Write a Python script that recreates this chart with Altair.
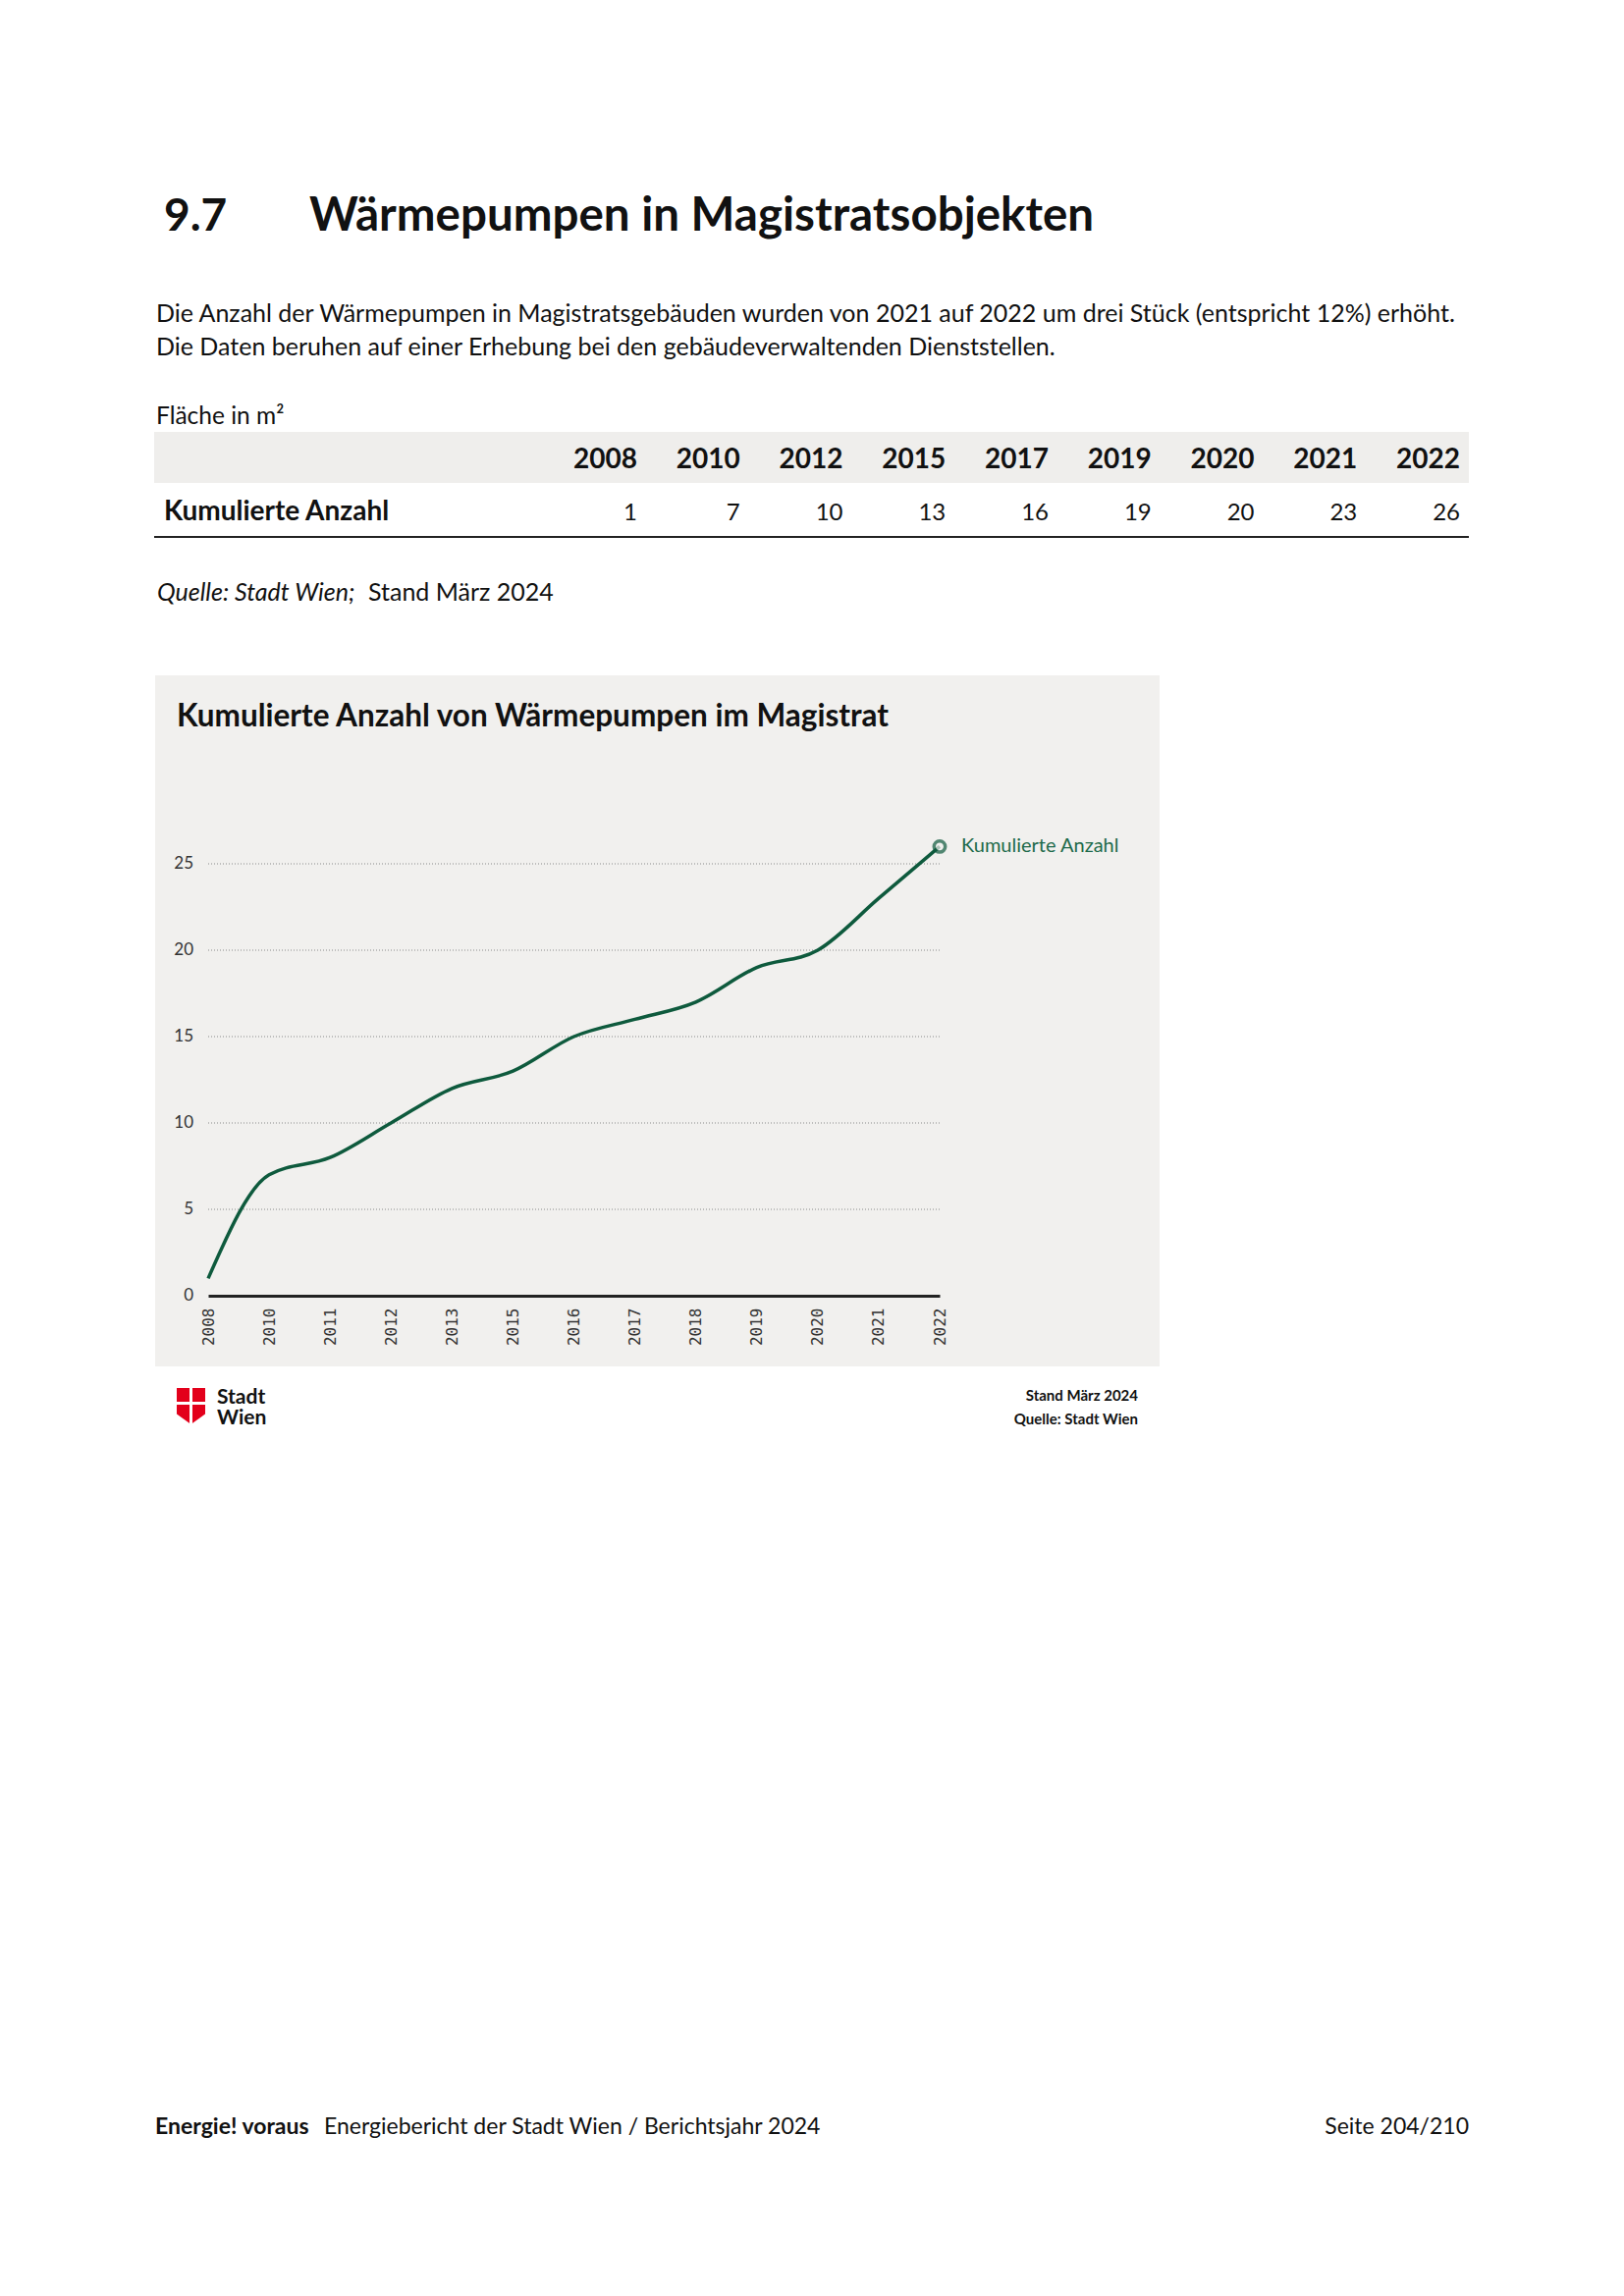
import altair as alt
import pandas as pd

# ---------------- data ----------------
chart_years = ["2008", "2010", "2011", "2012", "2013", "2015", "2016",
               "2017", "2018", "2019", "2020", "2021", "2022"]
chart_values = [1, 7, 8, 10, 12, 13, 15, 16, 17, 19, 20, 23, 26]
series_name = "Kumulierte Anzahl"

table_years = ["2008", "2010", "2012", "2015", "2017", "2019", "2020", "2021", "2022"]
table_values = [1, 7, 10, 13, 16, 19, 20, 23, 26]
table_row_label = "Kumulierte Anzahl"

y_ticks = [0, 5, 10, 15, 20, 25]

section_no = "9.7"
section_title = "Wärmepumpen in Magistratsobjekten"
para_lines = [
    "Die Anzahl der Wärmepumpen in Magistratsgebäuden wurden von 2021 auf 2022 um drei Stück (entspricht 12%) erhöht.",
    "Die Daten beruhen auf einer Erhebung bei den gebäudeverwaltenden Dienststellen.",
]
unit_label = "Fläche in m²"
source_italic = "Quelle: Stadt Wien;"
source_regular = "Stand März 2024"
chart_title = "Kumulierte Anzahl von Wärmepumpen im Magistrat"
logo_lines = ["Stadt", "Wien"]
chart_notes = ["Stand März 2024", "Quelle: Stadt Wien"]
footer_bold = "Energie! voraus"
footer_regular = "Energiebericht der Stadt Wien / Berichtsjahr 2024"
footer_page = "Seite 204/210"

# ---------------- styling ----------------
GREEN = "#0e5a3d"
PANEL = "#f1f0ee"
BAND = "#efeeec"
SANS = "Lato, 'Open Sans', sans-serif"
MONO = "'DejaVu Sans Mono', monospace"

VIEW_W, VIEW_H = 745, 440
PAD_L, PAD_T = 204, 872
PAD_R = 1638 - PAD_L - VIEW_W
PAD_B = 2323 - PAD_T - VIEW_H


def txt(text, x, y, size, weight="normal", font=SANS, color="#111111",
        align="left", baseline="alphabetic", style="normal"):
    return alt.Chart(pd.DataFrame({"t": [text]})).mark_text(
        align=align, baseline=baseline, font=font, fontSize=size,
        fontWeight=weight, fontStyle=style, color=color
    ).encode(x=alt.value(x), y=alt.value(y), text="t:N")


def rect(x, x2, y, y2, color):
    return alt.Chart(pd.DataFrame({"a": [0]})).mark_rect(color=color).encode(
        x=alt.value(x), x2=alt.value(x2), y=alt.value(y), y2=alt.value(y2))


def hrule(x, x2, y, color, width):
    return alt.Chart(pd.DataFrame({"a": [0]})).mark_rule(
        color=color, strokeWidth=width).encode(
        x=alt.value(x), x2=alt.value(x2), y=alt.value(y))


def vrule(x, y, y2, color, width):
    return alt.Chart(pd.DataFrame({"a": [0]})).mark_rule(
        color=color, strokeWidth=width).encode(
        x=alt.value(x), y=alt.value(y), y2=alt.value(y2))


layers = []

# ---- page texts (view origin = page (212, 880)) ----
layers.append(txt(section_no, -45, -645, 46, weight="bold"))
layers.append(txt(section_title, 103, -645, 47.5, weight="bold"))
layers.append(txt(para_lines[0], -53, -552, 25))
layers.append(txt(para_lines[1], -53, -518, 25))
layers.append(txt(unit_label, -53, -448, 24.5))

# ---- table ----
layers.append(rect(-55, 1284, -440, -388, BAND))
col_x = [437 + 104.75 * i for i in range(len(table_years))]
tab_df = pd.DataFrame({"year": table_years, "value": [str(v) for v in table_values], "px": col_x})
layers.append(alt.Chart(tab_df).mark_text(
    align="right", baseline="alphabetic", font=SANS, fontSize=28,
    fontWeight="bold", color="#111111").encode(
    x=alt.X("px:Q", scale=None, axis=None), y=alt.value(-403), text="year:N"))
layers.append(alt.Chart(tab_df).mark_text(
    align="right", baseline="alphabetic", font=SANS, fontSize=24,
    color="#111111").encode(
    x=alt.X("px:Q", scale=None, axis=None), y=alt.value(-350), text="value:N"))
layers.append(txt(table_row_label, -45, -350, 28, weight="bold"))
layers.append(hrule(-55, 1284, -333, "#222222", 2))

layers.append(txt(source_italic, -52, -268, 25, style="italic"))
layers.append(txt(source_regular, 163, -268, 25))

# ---- chart panel ----
layers.append(rect(-54, 969, -192, 512, PANEL))
layers.append(txt(chart_title, -32, -149, 31.5, weight="bold",
                  baseline="middle"))

# ---- data ----
df = pd.DataFrame({"year": chart_years, "value": chart_values, "series": series_name})
tick_df = pd.DataFrame({"v": y_ticks, "label": [str(v) for v in y_ticks]})
grid_df = tick_df[tick_df["v"] > 0]

y_scale = alt.Scale(domain=[0, 25], nice=False, zero=True)

grid = alt.Chart(grid_df).mark_rule(color="#8a8a8a", strokeDash=[1, 2],
                                    strokeWidth=1.2).encode(
    y=alt.Y("v:Q", scale=y_scale, axis=None))

ylabels = alt.Chart(tick_df).mark_text(
    align="right", baseline="middle", font=SANS, fontSize=17,
    color="#333333").encode(
    x=alt.value(-15), y=alt.Y("v:Q", scale=y_scale, axis=None), text="label:N")

x_enc = alt.X("year:O", sort=chart_years,
              scale=alt.Scale(type="point", padding=0),
              axis=alt.Axis(title=None, labelAngle=270, labelFont=MONO,
                            labelFontSize=16, labelColor="#333333",
                            labelPadding=12, ticks=False, domain=True,
                            domainColor="#222222", domainWidth=3, grid=False,
                            zindex=1))
y_enc = alt.Y("value:Q", scale=y_scale, axis=None)

line = alt.Chart(df).mark_line(interpolate="monotone", color=GREEN,
                               strokeWidth=3.5).encode(x=x_enc, y=y_enc)
last = df.tail(1)
endpoint = alt.Chart(last).mark_point(shape="circle", filled=False, size=130,
                                      strokeWidth=3.5, color=GREEN,
                                      fill=PANEL).encode(
    x=alt.X("year:O", sort=chart_years), y=alt.Y("value:Q", axis=None))
endlabel = alt.Chart(last).mark_text(align="left", baseline="middle", dx=22,
                                     font=SANS, fontSize=20,
                                     color="#1d6a4a").encode(
    x=alt.X("year:O", sort=chart_years), y=alt.Y("value:Q", axis=None),
    text="series:N")

# ---- logo & notes below panel ----
shield_path = "M-1,-1.28 L1,-1.28 L1,0.55 L0,1.28 L-1,0.55 Z"
shield = alt.Chart(pd.DataFrame({"a": [0]})).mark_point(
    shape=shield_path, filled=True, fill="#e3001b", size=841,
    strokeWidth=0, opacity=1).encode(x=alt.value(-17.5), y=alt.value(552.5))
layers_after = [
    shield,
    hrule(-33, -2, 549.5, "white", 3),
    vrule(-17.5, 533, 572, "white", 3),
    txt(logo_lines[0], 9, 550, 21, weight="bold"),
    txt(logo_lines[1], 9, 571, 21, weight="bold"),
    txt(chart_notes[0], 947, 547, 15, weight="bold", align="right"),
    txt(chart_notes[1], 947, 571, 15, weight="bold", align="right"),
    # footer
    txt(footer_bold, -54, 1294, 23, weight="bold"),
    txt(footer_regular, 118, 1294, 23),
    txt(footer_page, 1284, 1294, 23, align="right"),
]

chart = alt.layer(*layers, grid, ylabels, line, endpoint, endlabel,
                  *layers_after).properties(
    width=VIEW_W, height=VIEW_H,
    autosize=alt.AutoSizeParams(type="none"),
    padding={"left": PAD_L, "top": PAD_T, "right": PAD_R, "bottom": PAD_B},
    background="white",
).configure_view(stroke=None)

chart.save("out.html", embed_options={"renderer": "svg", "actions": False})
